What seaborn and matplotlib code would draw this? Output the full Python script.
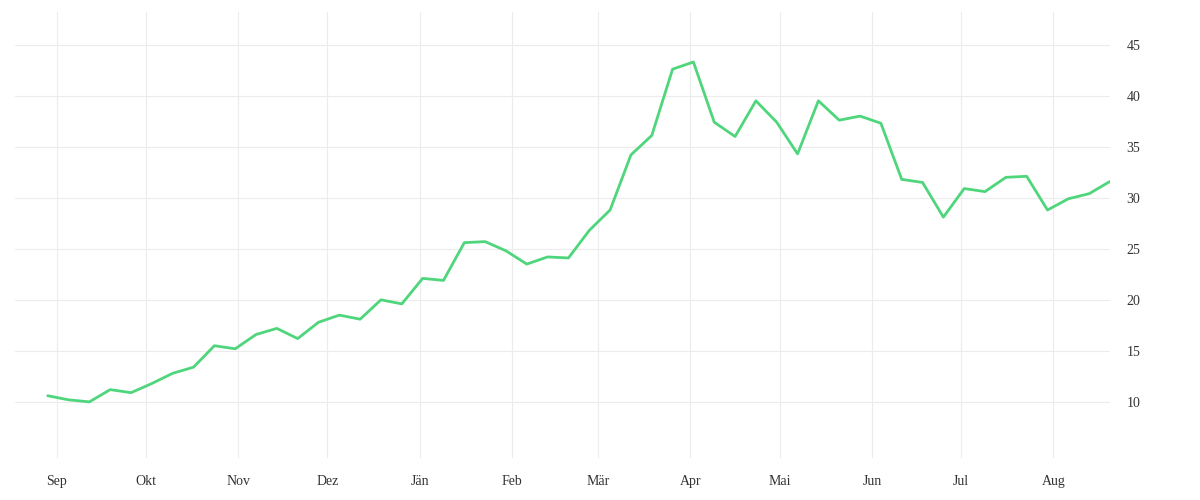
import pandas as pd
import numpy as np
import matplotlib.pyplot as plt
import seaborn as sns

# ===============================
# Data
# ===============================
start = pd.Timestamp("2019-08-29")
dates = list(pd.date_range(start, periods=51, freq="7D")) + [pd.Timestamp("2020-08-20")]
values = [10.6, 10.2, 10.0, 11.2, 10.9, 11.8, 12.8, 13.4, 15.5, 15.2,
          16.6, 17.2, 16.2, 17.8, 18.5, 18.1, 20.0, 19.6, 22.1, 21.9,
          25.6, 25.7, 24.8, 23.5, 24.2, 24.1, 26.8, 28.8, 34.2, 36.1,
          42.6, 43.3, 37.4, 36.0, 39.5, 37.4, 34.3, 39.5, 37.6, 38.0,
          37.3, 31.8, 31.5, 28.1, 30.9, 30.6, 32.0, 32.1, 28.8, 29.9,
          30.4, 31.6]
month_labels = ["Sep", "Okt", "Nov", "Dez", "Jän", "Feb", "Mär", "Apr", "Mai", "Jun", "Jul", "Aug"]
month_ticks = pd.date_range("2019-09-01", periods=12, freq="MS")
y_ticks = [10, 15, 20, 25, 30, 35, 40, 45]

df = pd.DataFrame({"date": dates, "value": values})

# ===============================
# Plot
# ===============================
sns.set_style("white")
plt.rcParams["font.family"] = ["Liberation Serif", "DejaVu Serif"]

fig = plt.figure(figsize=(12, 5), dpi=100)
ax = fig.add_axes([0.0125, 0.084, 0.9125, 0.892])

sns.lineplot(data=df, x="date", y="value", ax=ax, color="#4fd67c", linewidth=2.0)

ax.set_xlim(pd.Timestamp("2019-08-18"), pd.Timestamp("2020-08-20"))
ax.set_ylim(4.5, 48.2)
ax.set_xticks(month_ticks)
ax.set_xticklabels(month_labels)
ax.set_yticks(y_ticks)
ax.yaxis.tick_right()
ax.tick_params(axis="both", length=0, labelsize=10, colors="#333333")
ax.tick_params(axis="y", pad=12)
ax.tick_params(axis="x", pad=12)
ax.grid(True, color="#ececec", linewidth=0.8)
for s in ax.spines.values():
    s.set_visible(False)
ax.set_xlabel("")
ax.set_ylabel("")

plt.savefig("out.png", dpi=100)
plt.close()
